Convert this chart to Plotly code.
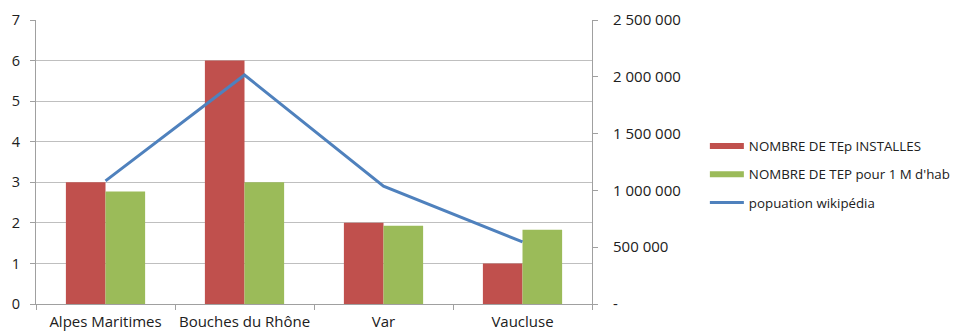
import plotly.graph_objects as go

categories = ["Alpes Maritimes", "Bouches du Rhône", "Var", "Vaucluse"]
tep_installes = [3, 6, 2, 1]
tep_par_million = [2.77, 3.0, 1.93, 1.83]
population = [1084000, 2016000, 1038000, 547000]

red = "#C0504D"
green = "#9BBB59"
blue = "#4F81BD"
font_family = "'Open Sans', Lato, sans-serif"
text_color = "#202020"

fig = go.Figure()
fig.add_trace(go.Bar(x=categories, y=tep_installes, name="NOMBRE DE TEp INSTALLES",
                     marker=dict(color=red, line=dict(width=0)), showlegend=False))
fig.add_trace(go.Bar(x=categories, y=tep_par_million, name="NOMBRE DE TEP pour 1 M d'hab",
                     marker=dict(color=green, line=dict(width=0)), showlegend=False))
fig.add_trace(go.Scatter(x=categories, y=population, name="popuation wikipédia", yaxis="y2",
                         mode="lines", line=dict(color=blue, width=3), showlegend=False))
# legend entries (styled like the original wide swatches)
fig.add_trace(go.Scatter(x=[None], y=[None], name="NOMBRE DE TEp INSTALLES", mode="lines",
                         line=dict(color=red, width=6), legendgroup="a"))
fig.add_trace(go.Scatter(x=[None], y=[None], name="NOMBRE DE TEP pour 1 M d'hab", mode="lines",
                         line=dict(color=green, width=6), legendgroup="b"))
fig.add_trace(go.Scatter(x=[None], y=[None], name="popuation wikipédia", mode="lines",
                         line=dict(color=blue, width=3), legendgroup="c"))

tickvals2 = [0, 500000, 1000000, 1500000, 2000000, 2500000]
ticktext2 = ["-", "500 000", "1 000 000", "1 500 000", "2 000 000", "2 500 000"]

fig.update_layout(
    width=958, height=331,
    margin=dict(l=36, r=366, t=20, b=27, autoexpand=False),
    paper_bgcolor="white", plot_bgcolor="white",
    font=dict(family=font_family, color=text_color, size=13),
    barmode="group", bargap=0.43, bargroupgap=0,
    xaxis=dict(type="category", showgrid=False, ticks="outside", tickson="boundaries",
               ticklen=5, tickcolor="#A0A0A0", showline=True, linecolor="#A0A0A0",
               tickfont=dict(size=15, color=text_color), ticklabelstandoff=4,
               tickangle=0, automargin=False),
    yaxis=dict(range=[0, 7], dtick=1, showgrid=True, gridcolor="#BFBFBF", gridwidth=1.3,
               ticks="outside", ticklen=5, tickcolor="#A0A0A0", showline=True,
               linecolor="#A0A0A0", zeroline=False, tickfont=dict(size=14.5, color=text_color),
               ticklabelstandoff=7, automargin=False),
    yaxis2=dict(range=[0, 2500000], overlaying="y", side="right", tickvals=tickvals2,
                ticktext=ticktext2, showgrid=False, ticks="outside", ticklen=5,
                tickcolor="#A0A0A0", showline=True, linecolor="#A0A0A0", zeroline=False,
                tickfont=dict(size=15, color=text_color), ticklabelstandoff=12,
                automargin=False),
    legend=dict(x=1.203, y=0.61, xanchor="left", yanchor="top",
                font=dict(size=13.3, color=text_color),
                bgcolor="rgba(0,0,0,0)", itemwidth=34, tracegroupgap=8),
)

fig.write_html("out.html", config={"displayModeBar": False},
               post_script="document.body.style.margin='0';")
